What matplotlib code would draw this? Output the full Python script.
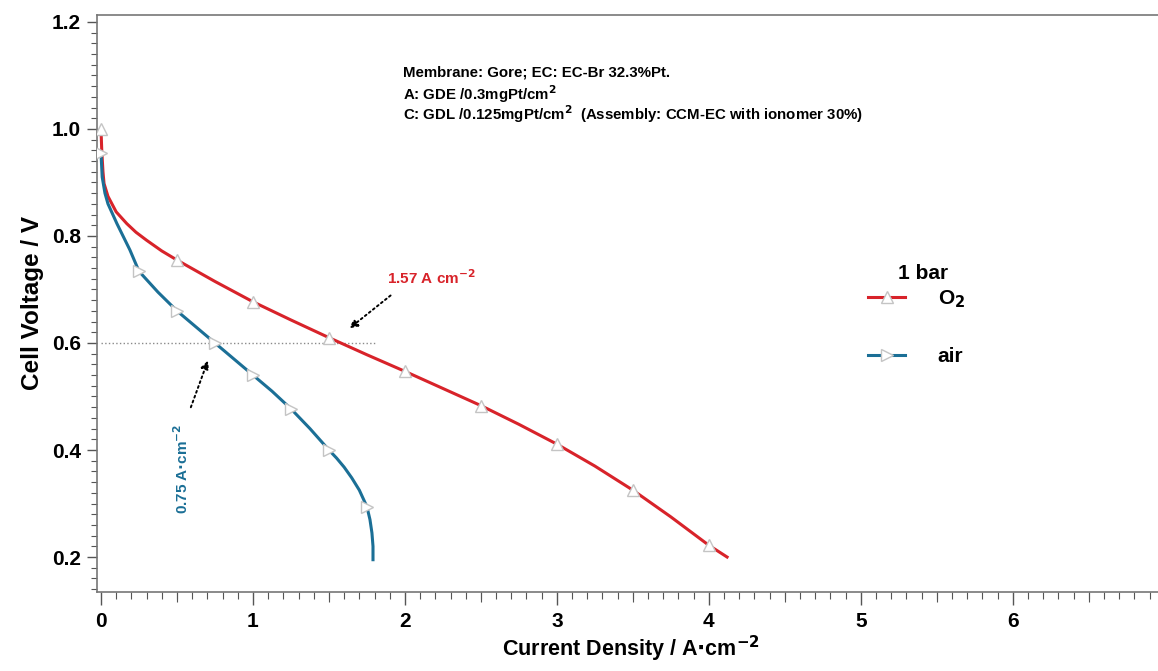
"""
Polarisation curves (O2 vs air, 1 bar) with 0.6 V markers.
"""

import numpy as np
import matplotlib
matplotlib.use('Agg')
import matplotlib.pyplot as plt
from matplotlib.ticker import MultipleLocator

plt.rcParams['font.family'] = ['Liberation Sans', 'DejaVu Sans']
plt.rcParams['font.weight'] = 'bold'
plt.rcParams['mathtext.default'] = 'bf'

# O2 curve (A/cm2, V)
o2_j = [0, 0.005, 0.013, 0.02, 0.046, 0.1, 0.17, 0.23, 0.3, 0.4, 0.5, 0.75, 1.0, 1.25,
        1.5, 1.75, 2.0, 2.25, 2.5, 2.75, 3.0, 3.25, 3.5, 3.75, 4.0, 4.12]
o2_v = [1.0, 0.96, 0.92, 0.898, 0.874, 0.845, 0.823, 0.807, 0.792, 0.772, 0.755, 0.715,
        0.677, 0.643, 0.61, 0.578, 0.547, 0.515, 0.483, 0.448, 0.411, 0.37, 0.325, 0.275,
        0.222, 0.200]
o2_marks = [0, 0.5, 1.0, 1.5, 2.0, 2.5, 3.0, 3.5, 4.0]

# air curve
air_j = [0, 0.008, 0.026, 0.046, 0.105, 0.19, 0.25, 0.375, 0.5, 0.625, 0.75, 0.875,
         1.0, 1.125, 1.25, 1.375, 1.5, 1.55, 1.6, 1.65, 1.7, 1.75, 1.77, 1.783,
         1.79, 1.79]
air_v = [0.955, 0.91, 0.88, 0.86, 0.823, 0.774, 0.734, 0.695, 0.66, 0.63, 0.60, 0.57,
         0.54, 0.51, 0.477, 0.44, 0.40, 0.385, 0.368, 0.348, 0.325, 0.294, 0.27, 0.245,
         0.22, 0.195]
air_marks = [0, 0.25, 0.5, 0.75, 1.0, 1.25, 1.5, 1.75]

RED = '#d8232a'
BLUE = '#1b6f96'
MARK_EDGE = '#c4c4c4'
TICK = '#555555'

fig = plt.figure(figsize=(11.58, 6.71), dpi=100)
ax = fig.add_axes([0.0838, 0.1177, 0.922, 0.86])

o2_idx = list(np.where(np.isin(o2_j, o2_marks))[0])
air_idx = list(np.where(np.isin(air_j, air_marks))[0])

ax.plot(o2_j, o2_v, color=RED, linewidth=2.2, marker='^', markevery=o2_idx,
        markersize=8, markerfacecolor='white', markeredgecolor=MARK_EDGE,
        markeredgewidth=1.0, label='O$_2$', zorder=3)
ax.plot(air_j, air_v, color=BLUE, linewidth=2.2, marker='>', markevery=air_idx,
        markersize=8, markerfacecolor='white', markeredgecolor=MARK_EDGE,
        markeredgewidth=1.0, label='air', zorder=3)

# 0.6 V reference line
ax.plot([0, 1.8], [0.6, 0.6], linestyle=':', color='#8a8a8a', linewidth=1.0, zorder=2)

# annotations
ax.text(1.88, 0.723, '1.57 A cm$^{-2}$', color=RED, fontsize=11, fontweight='bold',
        ha='left', va='center')
ax.annotate('', xy=(1.62, 0.624), xytext=(1.92, 0.692),
            arrowprops=dict(arrowstyle='-|>', linestyle=':', color='black',
                            linewidth=1.4, mutation_scale=12))
ax.text(0.53, 0.365, '0.75 A$\\cdot$cm$^{-2}$', color=BLUE, fontsize=11,
        fontweight='bold', rotation=90, ha='center', va='center')
ax.annotate('', xy=(0.71, 0.572), xytext=(0.585, 0.475),
            arrowprops=dict(arrowstyle='-|>', linestyle=':', color='black',
                            linewidth=1.4, mutation_scale=12))

info = ['Membrane: Gore; EC: EC-Br 32.3%Pt.',
        'A: GDE /0.3mgPt/cm$^{2}$',
        'C: GDL /0.125mgPt/cm$^{2}$  (Assembly: CCM-EC with ionomer 30%)']
for line, yy in zip(info, [1.106, 1.065, 1.027]):
    ax.text(1.99, yy, line, fontsize=10.8, fontweight='bold', ha='left', va='center')

# legend: title drawn as text, the gap to the entries is tighter than the row gap
ax.text(0.75, 0.552, '1 bar', transform=ax.transAxes, fontsize=15,
        fontweight='bold', ha='left', va='center')
ax.legend(loc='upper left', bbox_to_anchor=(0.7045, 0.559), frameon=False,
          fontsize=15, handlelength=1.8, labelspacing=1.8, handletextpad=1.55)

ax.set_xlim(-0.026, 7.0)
ax.set_ylim(0.1346, 1.213)
ax.xaxis.set_major_locator(MultipleLocator(1))
ax.xaxis.set_minor_locator(MultipleLocator(0.1))
ax.yaxis.set_minor_locator(MultipleLocator(0.02))
ax.set_yticks([0.2, 0.4, 0.6, 0.8, 1.0, 1.2])
ax.set_yticklabels(['0.2', '0.4', '0.6', '0.8', '1.0', '1.2'])
ax.tick_params(axis='y', which='major', direction='out', length=7.5, width=1,
               color=TICK, labelsize=15, pad=4)
ax.tick_params(axis='x', which='major', direction='out', length=9.5, width=1,
               color=TICK, labelsize=15, pad=5)
ax.tick_params(axis='y', which='minor', direction='out', length=4, width=0.8, color=TICK)
ax.tick_params(axis='x', which='minor', direction='out', length=5, width=0.8, color=TICK)
for lab in ax.get_xticklabels() + ax.get_yticklabels():
    lab.set_fontweight('bold')

# half-unit ticks on x are a bit longer than the 0.1 ones
half = ax.secondary_xaxis('bottom')
half.set_xticks(np.arange(0.5, 7.0, 1.0))
half.tick_params(axis='x', direction='out', length=7, width=0.8, color=TICK,
                 labelbottom=False)
half.spines['bottom'].set_visible(False)

for side in ['left', 'bottom', 'top', 'right']:
    ax.spines[side].set_color('#777777')
    ax.spines[side].set_linewidth(1.2)

ax.set_xlabel('Current Density / A$\\cdot$cm$^{-2}$', fontsize=15.5, fontweight='bold',
              labelpad=2)
ax.set_ylabel('Cell Voltage / V', fontsize=17.5, fontweight='bold', labelpad=6)

fig.savefig('out.png', dpi=100)
